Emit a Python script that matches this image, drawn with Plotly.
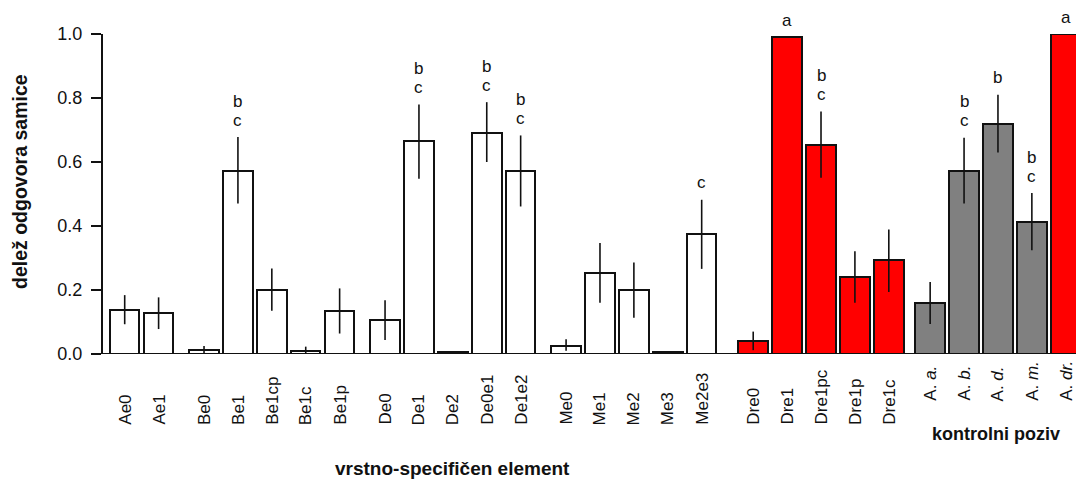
import plotly.graph_objects as go

# Stimulus categories (species-specific elements, then control calls)
categories = ["Ae0", "Ae1",
              "Be0", "Be1", "Be1cp", "Be1c", "Be1p",
              "De0", "De1", "De2", "De0e1", "De1e2",
              "Me0", "Me1", "Me2", "Me3", "Me2e3",
              "Dre0", "Dre1", "Dre1pc", "Dre1p", "Dre1c",
              "A. <i>a.</i>", "A. <i>b.</i>", "A. <i>d.</i>", "A. <i>m.</i>", "A. <i>dr.</i>"]

# Proportion of female responses
response = [0.139, 0.129,
            0.012, 0.572, 0.199, 0.010, 0.133,
            0.106, 0.666, 0.006, 0.691, 0.571,
            0.026, 0.252, 0.200, 0.006, 0.374,
            0.040, 0.990, 0.653, 0.240, 0.295,
            0.159, 0.572, 0.719, 0.413, 1.000]

# Confidence interval limits
ci_upper = [0.184, 0.177,
            0.025, 0.678, 0.267, 0.023, 0.205,
            0.168, 0.780, 0.006, 0.787, 0.683,
            0.046, 0.347, 0.286, 0.006, 0.482,
            0.070, 0.990, 0.758, 0.321, 0.389,
            0.225, 0.676, 0.810, 0.503, 1.000]
ci_lower = [0.093, 0.078,
            0.000, 0.470, 0.135, 0.000, 0.064,
            0.044, 0.548, 0.006, 0.600, 0.461,
            0.010, 0.160, 0.113, 0.006, 0.266,
            0.012, 0.990, 0.551, 0.160, 0.194,
            0.094, 0.470, 0.630, 0.324, 1.000]

# Significance group letters (top to bottom)
sig_letters = ["", "",
               "", "bc", "", "", "",
               "", "bc", "", "bc", "bc",
               "", "", "", "", "c",
               "", "a", "bc", "", "",
               "", "bc", "b", "bc", "a"]

# Stimulus type: element / conspecific / heterospecific control
stim_type = ["el"] * 17 + ["con"] * 5 + ["het"] * 4 + ["con"]

group_sizes = [2, 5, 5, 5, 5, 5]
group_gaps = [0.34, 0.34, 0.34, 0.52, 0.22]

FILL = {"el": "#ffffff", "con": "#ff0000", "het": "#808080"}
FONT = "Liberation Sans, Arial, sans-serif"
INK = "#111111"

# bar positions with extra space between groups
xpos = []
cur = 0.0
for gi, n in enumerate(group_sizes):
    for _ in range(n):
        xpos.append(cur)
        cur += 1.0
    if gi < len(group_gaps):
        cur += group_gaps[gi]

L, R, T, B = 103, 0, 34, 127
W, H = 1076, 481
plot_w = W - L - R
plot_h = H - T - B
unit = 33.9
x0 = -(124.7 - L) / unit
x1 = x0 + plot_w / unit


def px_to_paper_y(py):
    return (T + plot_h - py) / plot_h


def px_to_paper_x(px):
    return (px - L) / plot_w


fig = go.Figure()
fig.add_trace(go.Bar(
    x=xpos, y=response, width=0.87,
    marker=dict(color=[FILL[t] for t in stim_type],
                line=dict(color=INK, width=2)),
    error_y=dict(type="data", symmetric=False,
                 array=[u - v for u, v in zip(ci_upper, response)],
                 arrayminus=[v - l for v, l in zip(response, ci_lower)],
                 width=0, thickness=1.6, color=INK),
    showlegend=False, hoverinfo="skip",
))

annotations = []
# rotated category labels, anchored at their start
for xp, lab in zip(xpos, categories):
    base_px = 403 if lab.startswith("A.") else 427
    annotations.append(dict(
        x=xp, xref="x", y=px_to_paper_y(base_px), yref="paper",
        text=lab, textangle=-90, showarrow=False,
        xanchor="center", yanchor="bottom",
        font=dict(family=FONT, size=17, color=INK),
    ))

# significance letters above the error bars
for xp, top, letters in zip(xpos, ci_upper, sig_letters):
    for i, ch in enumerate(reversed(letters)):
        annotations.append(dict(
            x=xp, xref="x", y=top, yref="y", text=ch, showarrow=False,
            yanchor="middle", yshift=17 + 19 * i,
            font=dict(family=FONT, size=17, color=INK),
        ))

# axis titles
annotations.append(dict(
    x=px_to_paper_x(20), xref="paper", y=px_to_paper_y(182), yref="paper",
    text="<b>delež odgovora samice</b>", textangle=-90, showarrow=False,
    xanchor="center", yanchor="middle",
    font=dict(family=FONT, size=19.5, color=INK),
))
annotations.append(dict(
    x=px_to_paper_x(452), xref="paper", y=px_to_paper_y(468), yref="paper",
    text="<b>vrstno-specifičen element</b>", showarrow=False,
    xanchor="center", yanchor="middle",
    font=dict(family=FONT, size=19, color=INK),
))
annotations.append(dict(
    x=px_to_paper_x(996), xref="paper", y=px_to_paper_y(434), yref="paper",
    text="<b>kontrolni poziv</b>", showarrow=False,
    xanchor="center", yanchor="middle",
    font=dict(family=FONT, size=18, color=INK),
))

fig.update_layout(
    width=W, height=H,
    margin=dict(l=L, r=R, t=T, b=B),
    paper_bgcolor="white", plot_bgcolor="white",
    annotations=annotations,
    shapes=[dict(type="line", xref="paper", yref="y",
                 x0=-10 / plot_w, x1=1, y0=0, y1=0,
                 line=dict(color=INK, width=2))],
    xaxis=dict(range=[x0, x1], showticklabels=False, showgrid=False,
               zeroline=False, showline=False, ticks=""),
    yaxis=dict(range=[0, 1], tickvals=[0, 0.2, 0.4, 0.6, 0.8, 1.0],
               ticktext=["0.0", "0.2", "0.4", "0.6", "0.8", "1.0"],
               ticks="outside", ticklen=10, tickwidth=2, tickcolor=INK,
               ticklabelstandoff=5,
               showline=True, linewidth=2, linecolor=INK,
               showgrid=False, zeroline=False,
               tickfont=dict(family=FONT, size=18, color=INK)),
    bargap=0,
)

fig.write_html("out.html")
